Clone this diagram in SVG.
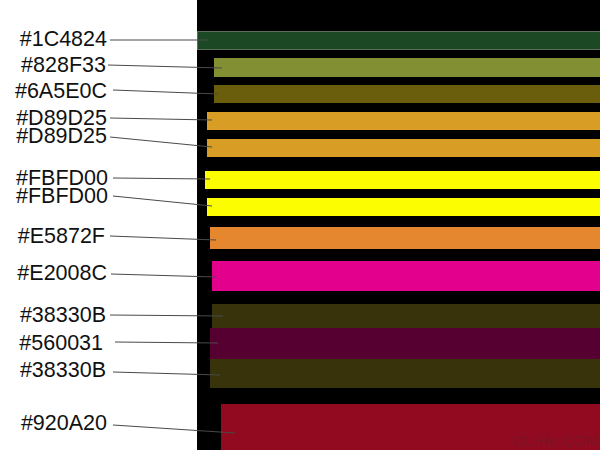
<svg xmlns="http://www.w3.org/2000/svg" width="600" height="450" viewBox="0 0 600 450">
<style>
.lbl{font-family:"Liberation Sans",Arial,sans-serif;font-size:21.5px;fill:#111;text-anchor:end}
.ln{stroke:#4a4a4a;stroke-width:1;fill:none}
.bar{stroke-width:1}
</style>
<rect x="0" y="0" width="600" height="450" fill="#fff"/>
<rect x="197" y="0" width="403" height="450" fill="#000"/>
<g id="bar-1C4824"><rect class="bar" x="197.5" y="31.5" width="403" height="18" fill="#1C4824" stroke="#5d6e5d"/><text class="lbl" x="107" y="46">#1C4824</text></g>
<g id="bar-828F33"><rect class="bar" x="214" y="58" width="386" height="19" fill="#828F33"/><text class="lbl" x="106" y="72">#828F33</text></g>
<g id="bar-6A5E0C"><rect class="bar" x="214" y="85" width="386" height="18" fill="#6A5E0C"/><text class="lbl" x="107" y="98">#6A5E0C</text></g>
<g id="bar-D89D25a"><rect class="bar" x="207" y="112" width="393" height="18" fill="#D89D25"/><text class="lbl" x="107" y="125">#D89D25</text></g>
<g id="bar-D89D25b"><rect class="bar" x="207" y="139" width="393" height="18" fill="#D89D25"/><text class="lbl" x="107" y="143">#D89D25</text></g>
<g id="bar-FBFD00a"><rect class="bar" x="205" y="171" width="395" height="18" fill="#FBFD00"/><text class="lbl" x="108" y="185">#FBFD00</text></g>
<g id="bar-FBFD00b"><rect class="bar" x="207" y="198" width="393" height="18" fill="#FBFD00"/><text class="lbl" x="108" y="203">#FBFD00</text></g>
<g id="bar-E5872F"><rect class="bar" x="210" y="227" width="390" height="22" fill="#E5872F"/><text class="lbl" x="105" y="243">#E5872F</text></g>
<g id="bar-E2008C"><rect class="bar" x="212" y="261" width="388" height="30" fill="#E2008C"/><text class="lbl" x="107" y="280">#E2008C</text></g>
<g id="bar-38330Ba"><rect class="bar" x="212" y="304" width="388" height="24" fill="#38330B"/><text class="lbl" x="106" y="322">#38330B</text></g>
<g id="bar-560031"><rect class="bar" x="210" y="328" width="390" height="31" fill="#560031"/><text class="lbl" x="103" y="350">#560031</text></g>
<g id="bar-38330Bb"><rect class="bar" x="210" y="359" width="390" height="29" fill="#38330B"/><text class="lbl" x="106" y="377">#38330B</text></g>
<g id="bar-920A20"><rect class="bar" x="221" y="404" width="379" height="46" fill="#920A20"/><text class="lbl" x="107" y="430">#920A20</text></g>
<g id="connectors">
<line class="ln" x1="110" y1="40" x2="208" y2="40"/>
<line class="ln" x1="108" y1="65" x2="222" y2="68"/>
<line class="ln" x1="113" y1="90" x2="218" y2="94"/>
<line class="ln" x1="110" y1="118" x2="212" y2="120"/>
<line class="ln" x1="110" y1="137" x2="212" y2="147"/>
<line class="ln" x1="113" y1="178" x2="210" y2="179"/>
<line class="ln" x1="113" y1="196" x2="212" y2="206"/>
<line class="ln" x1="110" y1="236" x2="216" y2="240"/>
<line class="ln" x1="111" y1="274" x2="216" y2="277"/>
<line class="ln" x1="110" y1="315" x2="223" y2="316"/>
<line class="ln" x1="115" y1="342" x2="218" y2="343"/>
<line class="ln" x1="113" y1="372" x2="220" y2="375"/>
<line class="ln" x1="113" y1="425" x2="235" y2="433"/>
</g>
<text x="513" y="446" font-family="Liberation Sans,Arial,sans-serif" font-size="15" fill="#7a1424" textLength="85">OLiHe.COM</text>
</svg>
